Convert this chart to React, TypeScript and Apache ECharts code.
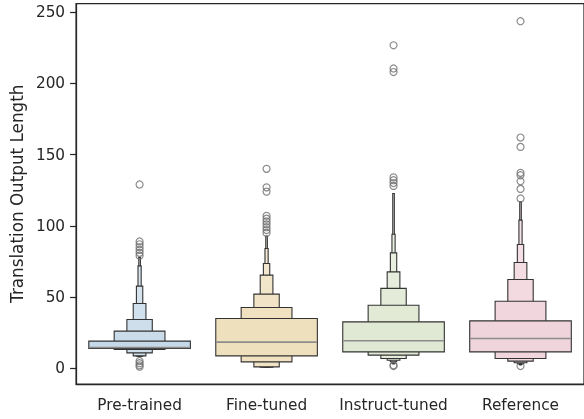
import React, { useEffect, useRef } from "react";
import * as echarts from "echarts";

const categories = ["Pre-trained", "Fine-tuned", "Instruct-tuned", "Reference"];
const yTicks = [0, 50, 100, 150, 200, 250];

// letter-value boxes, level 0 = widest (IQR)
const preLower = [13.8, 13.1, 10.7, 8.6, 8.4, 8.2, 8.0];
const preUpper = [19.0, 26.0, 34.2, 45.4, 57.6, 71.8, 77.7];
const preMedian = 14.5;
const preOutliers = [129, 89, 87, 85, 83, 81, 79, 5, 3.5, 2, 1];

const fineLower = [8.6, 4.4, 0.9, 0.7, 0.6, 0.5, 0.5];
const fineUpper = [34.9, 42.6, 52.0, 65.3, 73.5, 84.0, 92.7];
const fineMedian = 18.3;
const fineOutliers = [140, 127, 124, 107, 105, 103, 101, 99, 97, 95];

const instLower = [11.4, 9.1, 6.8, 5.5, 4.5, 3.5, 3.0];
const instUpper = [32.5, 44.2, 56.0, 67.6, 81.0, 94.0, 122.7];
const instMedian = 19.2;
const instOutliers = [226.8, 210.5, 208, 134, 132, 130, 128, 2, 1.5];

const refLower = [11.4, 6.8, 4.9, 3.8, 3.2, 2.6, 2.2];
const refUpper = [33.2, 47.0, 62.3, 74.2, 86.9, 104.0, 116.8];
const refMedian = 20.8;
const refOutliers = [243.7, 162, 155.4, 137.2, 135.5, 131.3, 125.9, 119.2, 1.5];

const baseColors = ["#c6d9e8", "#efe0bd", "#e0e9d3", "#f0d4db"];

const lowers = [preLower, fineLower, instLower, refLower];
const uppers = [preUpper, fineUpper, instUpper, refUpper];
const medians = [preMedian, fineMedian, instMedian, refMedian];
const outliers = [preOutliers, fineOutliers, instOutliers, refOutliers];

function mix(hex: string, t: number) {
  const n = parseInt(hex.slice(1), 16);
  const r = (n >> 16) & 255, g = (n >> 8) & 255, b = n & 255;
  const f = (v: number) => Math.round(v + (255 - v) * t);
  return `rgb(${f(r)},${f(g)},${f(b)})`;
}

export default function App() {
  const ref = useRef<HTMLDivElement>(null);
  useEffect(() => {
    const chart = echarts.init(ref.current!, null, { renderer: "svg" });
    const boxData: number[][] = [];
    categories.forEach((_, c) => {
      const lo = lowers[c], hi = uppers[c];
      for (let k = lo.length - 1; k >= 0; k--) boxData.push([c, k, lo[k], hi[k]]);
    });
    const medData = medians.map((m, c) => [c, m]);
    const outData: number[][] = [];
    outliers.forEach((arr, c) => arr.forEach((v) => outData.push([c, v])));
    const font = "DejaVu Sans";
    chart.setOption({
      animation: false,
      grid: { left: 75, right: -3, top: 3.5, bottom: 35, show: true, borderColor: "#262626", borderWidth: 1.25, backgroundColor: "transparent" },
      xAxis: {
        type: "category",
        data: categories,
        boundaryGap: true,
        axisLine: { onZero: false, lineStyle: { color: "#262626", width: 1.25 } },
        axisTick: { alignWithLabel: true, interval: 0, length: 6, lineStyle: { color: "#262626", width: 1.25 } },
        axisLabel: { interval: 0, color: "#262626", fontFamily: font, fontSize: 15.3, margin: 13.5 },
        splitLine: { show: false },
      },
      yAxis: {
        type: "value",
        min: -11.15,
        max: 256.15,
        name: "Translation Output Length",
        nameLocation: "middle",
        nameRotate: 90,
        nameGap: 50,
        nameTextStyle: { color: "#262626", fontFamily: font, fontSize: 16.8 },
        axisLine: { show: true, onZero: false, lineStyle: { color: "#262626", width: 1.25 } },
        axisTick: { show: true, length: 6, customValues: yTicks, lineStyle: { color: "#262626", width: 1.25 } },
        axisLabel: { color: "#262626", fontFamily: font, fontSize: 15.3, margin: 11, customValues: yTicks },
        splitLine: { show: false },
      },
      series: [
        {
          type: "custom",
          data: boxData,
          dimensions: ["cat", "level", "lo", "hi"],
          encode: { x: 0, y: 2 },
          renderItem: (params: any, api: any) => {
            const c = api.value(0), k = api.value(1), lo = api.value(2), hi = api.value(3);
            const band = api.size([1, 0])[0];
            const w = (band * 0.8) / Math.pow(2, k);
            const pLo = api.coord([c, lo]);
            const pHi = api.coord([c, hi]);
            return {
              type: "rect",
              shape: { x: pLo[0] - w / 2, y: pHi[1], width: w, height: Math.max(pLo[1] - pHi[1], 0.3) },
              style: { fill: mix(baseColors[c], (0.4 * k) / 6), stroke: "#333333", lineWidth: 1.1 },
              z2: 10 - k,
            };
          },
          z: 2,
        },
        {
          type: "custom",
          data: medData,
          encode: { x: 0, y: 1 },
          renderItem: (params: any, api: any) => {
            const c = api.value(0), m = api.value(1);
            const band = api.size([1, 0])[0];
            const w = band * 0.8;
            const p = api.coord([c, m]);
            return {
              type: "line",
              shape: { x1: p[0] - w / 2 + 0.6, y1: p[1], x2: p[0] + w / 2 - 0.6, y2: p[1] },
              style: { stroke: "#8c8c8c", lineWidth: 1.6 },
              z2: 20,
            };
          },
          z: 3,
        },
        {
          type: "scatter",
          data: outData,
          symbol: "circle",
          symbolSize: 7,
          itemStyle: { color: "rgba(255,255,255,0)", borderColor: "#6e6e6e", borderWidth: 1.2 },
          z: 4,
        },
      ],
    });
    return () => chart.dispose();
  }, []);
  return <div ref={ref} style={{ position: "fixed", left: 0, top: 0, width: 584, height: 419 }} />;
}
